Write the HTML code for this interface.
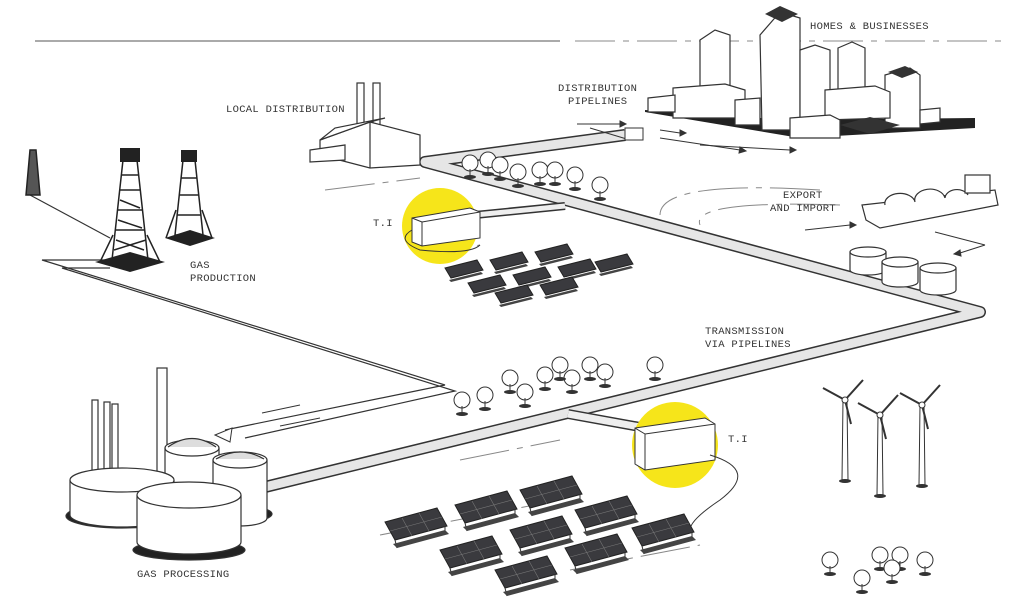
<!DOCTYPE html>
<html><head><meta charset="utf-8"><style>
html,body{margin:0;padding:0;background:#fff;}
svg{display:block}
text{font-family:"Liberation Mono",monospace;font-size:10.5px;fill:#333;letter-spacing:0.3px}
</style></head><body>
<svg width="1023" height="608" viewBox="0 0 1023 608" xmlns="http://www.w3.org/2000/svg">
<defs>
<g id="panel"><polygon points="0,0 52,-14 62,4 10,18" fill="#3a3a3e" stroke="#222" stroke-width="1"/>
<line x1="5" y1="9" x2="57" y2="-5" stroke="#777" stroke-width="0.6"/>
<line x1="17" y1="-4" x2="27" y2="14" stroke="#777" stroke-width="0.6"/>
<line x1="34" y1="-9" x2="44" y2="9" stroke="#777" stroke-width="0.6"/>
<line x1="10" y1="18" x2="12" y2="26" stroke="#333"/><line x1="60" y1="4" x2="60" y2="12" stroke="#333"/>
<polygon points="8,22 60,8 64,12 12,26" fill="#444"/></g>
<g id="spanel"><polygon points="0,0 32,-8 38,2 6,10" fill="#3a3a3e" stroke="#222"/><polygon points="4,12 36,4 38,6 6,14" fill="#444"/></g>
<g id="tree"><circle cx="0" cy="0" r="8" fill="#fff" stroke="#333"/><line x1="0" y1="6" x2="0" y2="14" stroke="#333"/><ellipse cx="0" cy="14" rx="6" ry="2" fill="#333"/></g>
<g id="turbine" stroke="#333" fill="#fff"><polygon points="-2,0 2,0 3,80 -3,80"/><line x1="0" y1="0" x2="-22" y2="-12" stroke-width="2"/><line x1="0" y1="0" x2="18" y2="-20" stroke-width="2"/><line x1="0" y1="0" x2="6" y2="24" stroke-width="2"/><circle r="3"/></g>
</defs>

<line x1="35" y1="41" x2="560" y2="41" stroke="#555" stroke-width="1"/>
<line x1="575" y1="41" x2="1005" y2="41" stroke="#888" stroke-width="1" stroke-dasharray="40 8 6 8"/>

<g stroke="#888" stroke-width="1" fill="none" stroke-dasharray="50 8 6 8">
<path d="M325 190 L420 178"/><path d="M820 190 Q660 180 660 215"/><path d="M840 205 Q690 200 700 225"/>
<path d="M380 535 L560 500"/><path d="M460 460 L560 440"/><path d="M570 570 L700 545"/><path d="M420 255 L480 245"/>
</g>

<g fill="none" stroke="#333" stroke-width="1.2">
<path d="M110 260 L42 260 L445 385 L225 430"/>
<path d="M110 268 L62 268 L455 391 L245 438"/>
<path d="M30 195 L110 238"/>
</g>
<g stroke="#333" stroke-width="1">
<line x1="300" y1="405" x2="262" y2="413"/><line x1="320" y1="418" x2="280" y2="426"/>
</g>
<polygon points="215,435 232,428 230,442" fill="#fff" stroke="#333"/>

<g fill="none" stroke-linejoin="round">
<path d="M265 487 L980 312 L425 162 L625 135" stroke="#333" stroke-width="12"/>
<path d="M265 487 L980 312 L425 162 L625 135" stroke="#e6e6e6" stroke-width="9"/>
<path d="M565 206 L475 215" stroke="#333" stroke-width="8"/><path d="M565 206 L475 215" stroke="#eee" stroke-width="5"/>
<path d="M568 414 L640 427" stroke="#333" stroke-width="10"/><path d="M568 414 L640 427" stroke="#eee" stroke-width="7"/>
</g>

<circle cx="440" cy="226" r="38" fill="#f6e51a"/>
<circle cx="675" cy="445" r="43" fill="#f6e51a"/>
<polygon points="412,218 470,208 480,212 480,238 422,246 412,242" fill="#fff" stroke="#333"/>
<line x1="412" y1="218" x2="422" y2="222" stroke="#333"/><line x1="422" y1="222" x2="480" y2="212" stroke="#333"/><line x1="422" y1="222" x2="422" y2="246" stroke="#333"/>
<polygon points="635,428 705,418 715,424 715,460 645,470 635,464" fill="#fff" stroke="#333"/>
<line x1="635" y1="428" x2="645" y2="434" stroke="#333"/><line x1="645" y1="434" x2="715" y2="424" stroke="#333"/><line x1="645" y1="434" x2="645" y2="470" stroke="#333"/>
<path d="M412 230 Q395 240 420 250 Q470 255 480 245" fill="none" stroke="#333"/>
<path d="M710 455 Q760 470 720 500 Q690 520 690 530" fill="none" stroke="#333"/>

<use href="#spanel" x="445" y="268"/><use href="#spanel" x="490" y="260"/><use href="#spanel" x="535" y="252"/>
<use href="#spanel" x="468" y="283"/><use href="#spanel" x="513" y="275"/><use href="#spanel" x="558" y="267"/><use href="#spanel" x="595" y="262"/>
<use href="#spanel" x="495" y="293"/><use href="#spanel" x="540" y="285"/>
<use href="#panel" x="385" y="522"/><use href="#panel" x="455" y="505"/><use href="#panel" x="520" y="490"/>
<use href="#panel" x="440" y="550"/><use href="#panel" x="510" y="530"/><use href="#panel" x="575" y="510"/>
<use href="#panel" x="495" y="570"/><use href="#panel" x="565" y="548"/><use href="#panel" x="632" y="528"/>

<g><use href="#tree" x="470" y="163"/><use href="#tree" x="488" y="160"/><use href="#tree" x="500" y="165"/><use href="#tree" x="518" y="172"/>
<use href="#tree" x="540" y="170"/><use href="#tree" x="555" y="170"/><use href="#tree" x="575" y="175"/><use href="#tree" x="600" y="185"/>
<use href="#tree" x="462" y="400"/><use href="#tree" x="485" y="395"/><use href="#tree" x="510" y="378"/><use href="#tree" x="525" y="392"/>
<use href="#tree" x="545" y="375"/><use href="#tree" x="572" y="378"/><use href="#tree" x="590" y="365"/><use href="#tree" x="605" y="372"/>
<use href="#tree" x="560" y="365"/><use href="#tree" x="655" y="365"/>
<use href="#tree" x="830" y="560"/><use href="#tree" x="862" y="578"/><use href="#tree" x="880" y="555"/><use href="#tree" x="900" y="555"/><use href="#tree" x="925" y="560"/><use href="#tree" x="892" y="568"/></g>

<use href="#turbine" x="845" y="400"/><use href="#turbine" x="880" y="415"/><use href="#turbine" x="922" y="405"/>
<ellipse cx="845" cy="481" rx="6" ry="2" fill="#333"/><ellipse cx="880" cy="496" rx="6" ry="2" fill="#333"/><ellipse cx="922" cy="486" rx="6" ry="2" fill="#333"/>

<g stroke="#222" stroke-width="1.5" fill="none">
<path d="M30 150 L36 150 L40 195 L26 195 Z" fill="#555"/>
<path d="M123 160 L137 160 L148 260 L112 260 Z"/><path d="M116 230 L144 230 M118 210 L142 210 M120 190 L140 190 M122 175 L138 175"/>
<path d="M114 250 L146 240 M116 240 L144 250 M118 220 L142 228 M120 200 L140 208"/>
<path d="M183 160 L195 160 L203 235 L175 235 Z"/><path d="M177 215 L201 215 M179 195 L199 195 M181 178 L197 178"/>
<path d="M113 235 L100 262 M147 235 L160 262"/><path d="M176 210 L166 238 M202 210 L212 238"/>
</g>
<polygon points="95,262 130,252 165,262 130,272" fill="#222"/>
<polygon points="165,238 190,230 215,238 190,246" fill="#222"/>
<rect x="120" y="148" width="20" height="14" fill="#222"/><rect x="181" y="150" width="16" height="12" fill="#222"/>

<g stroke="#333" stroke-width="1.2" fill="#fff">
<rect x="92" y="400" width="6" height="80"/><rect x="104" y="402" width="6" height="80"/><rect x="112" y="404" width="6" height="80"/>
<rect x="157" y="368" width="10" height="120"/>
<ellipse cx="222" cy="514" rx="50" ry="10" fill="#222"/>
<ellipse cx="122" cy="516" rx="56" ry="12" fill="#222"/>
<path d="M165 448 L165 500 A27 8 0 0 0 219 500 L219 448"/><ellipse cx="192" cy="448" rx="27" ry="8"/><path d="M168 447 Q192 430 216 447" fill="#ddd"/>
<path d="M213 460 L213 518 A27 8 0 0 0 267 518 L267 460"/><ellipse cx="240" cy="460" rx="27" ry="8"/><path d="M216 459 Q240 445 264 459" fill="#ddd"/>
<path d="M70 480 L70 515 A52 12 0 0 0 174 515 L174 480"/><ellipse cx="122" cy="480" rx="52" ry="12"/>
<ellipse cx="189" cy="550" rx="56" ry="10" fill="#222"/>
<path d="M137 495 L137 542 A52 12 0 0 0 241 542 L241 495"/><ellipse cx="189" cy="495" rx="52" ry="13"/>
</g>

<g stroke="#333" stroke-width="1.2" fill="#fff">
<rect x="357" y="83" width="7" height="45"/><rect x="373" y="83" width="7" height="45"/>
<polygon points="320,140 370,122 420,135 420,165 370,168 320,155" />
<polygon points="320,140 335,128 385,118 370,122"/>
<line x1="370" y1="122" x2="370" y2="168"/>
<polygon points="310,150 345,145 345,160 310,162"/>
</g>

<polygon points="645,110 790,120 975,118 975,128 800,138 645,112" fill="#222"/>
<g stroke="#333" stroke-width="1.2" fill="#fff">
<polygon points="700,40 715,30 730,35 730,110 700,112"/>
<polygon points="760,35 780,12 800,18 800,130 762,130"/>
<polygon points="800,50 815,45 830,50 830,125 800,128"/>
<polygon points="838,48 852,42 865,48 865,115 838,115"/>
<polygon points="885,75 910,68 920,75 920,128 885,128"/>
<polygon points="673,88 725,84 745,90 745,118 673,118"/>
<polygon points="648,98 675,95 675,112 648,112"/>
<polygon points="735,100 760,98 760,125 735,125"/>
<polygon points="825,90 875,86 890,92 890,118 825,120"/>
<polygon points="790,118 830,115 840,120 840,138 790,138"/>
<polygon points="920,110 940,108 940,122 920,124"/>
</g>
<polygon points="765,14 780,6 798,14 782,22" fill="#333"/><polygon points="888,72 905,66 918,72 902,78" fill="#333"/>
<polygon points="840,125 870,117 900,125 870,134" fill="#333"/>

<g stroke="#333" stroke-width="1" fill="#333">
<line x1="577" y1="124" x2="620" y2="124"/><polygon points="620,121 626,124 620,127"/>
<line x1="590" y1="128" x2="630" y2="140"/>
<line x1="660" y1="130" x2="680" y2="133"/><polygon points="680,130 686,133 680,136"/>
<line x1="660" y1="138" x2="740" y2="150"/><polygon points="740,147 746,151 739,153"/>
<line x1="700" y1="145" x2="790" y2="150"/><polygon points="790,147 796,150 790,153"/>
</g>
<rect x="625" y="128" width="18" height="12" fill="#fff" stroke="#333"/>

<g stroke="#333" stroke-width="1.2" fill="#fff">
<polygon points="862,205 995,190 998,205 880,228 866,220"/>
<path d="M885 205 A15 10 0 0 1 915 202 M915 202 A14 10 0 0 1 945 198 M945 198 A12 9 0 0 1 968 195"/>
<rect x="965" y="175" width="25" height="18"/>
<path d="M850 252 L850 270 A18 5 0 0 0 886 270 L886 252"/><ellipse cx="868" cy="252" rx="18" ry="5"/>
<path d="M882 262 L882 282 A18 5 0 0 0 918 282 L918 262"/><ellipse cx="900" cy="262" rx="18" ry="5"/>
<path d="M920 268 L920 290 A18 5 0 0 0 956 290 L956 268"/><ellipse cx="938" cy="268" rx="18" ry="5"/>
</g>
<g stroke="#333" fill="#333"><line x1="805" y1="230" x2="850" y2="225"/><polygon points="850,222 856,225 850,228"/>
<line x1="935" y1="232" x2="985" y2="245"/><line x1="985" y1="245" x2="960" y2="253"/><polygon points="960,250 954,254 961,256"/></g>

<text x="810" y="29">HOMES &amp; BUSINESSES</text>
<text x="558" y="91">DISTRIBUTION</text><text x="568" y="104">PIPELINES</text>
<text x="226" y="112">LOCAL DISTRIBUTION</text>
<text x="783" y="198">EXPORT</text><text x="770" y="211">AND IMPORT</text>
<text x="373" y="226">T.I</text>
<text x="190" y="268">GAS</text><text x="190" y="281">PRODUCTION</text>
<text x="705" y="334">TRANSMISSION</text><text x="705" y="347">VIA PIPELINES</text>
<text x="728" y="442">T.I</text>
<text x="137" y="577">GAS PROCESSING</text>
</svg>
</body></html>
